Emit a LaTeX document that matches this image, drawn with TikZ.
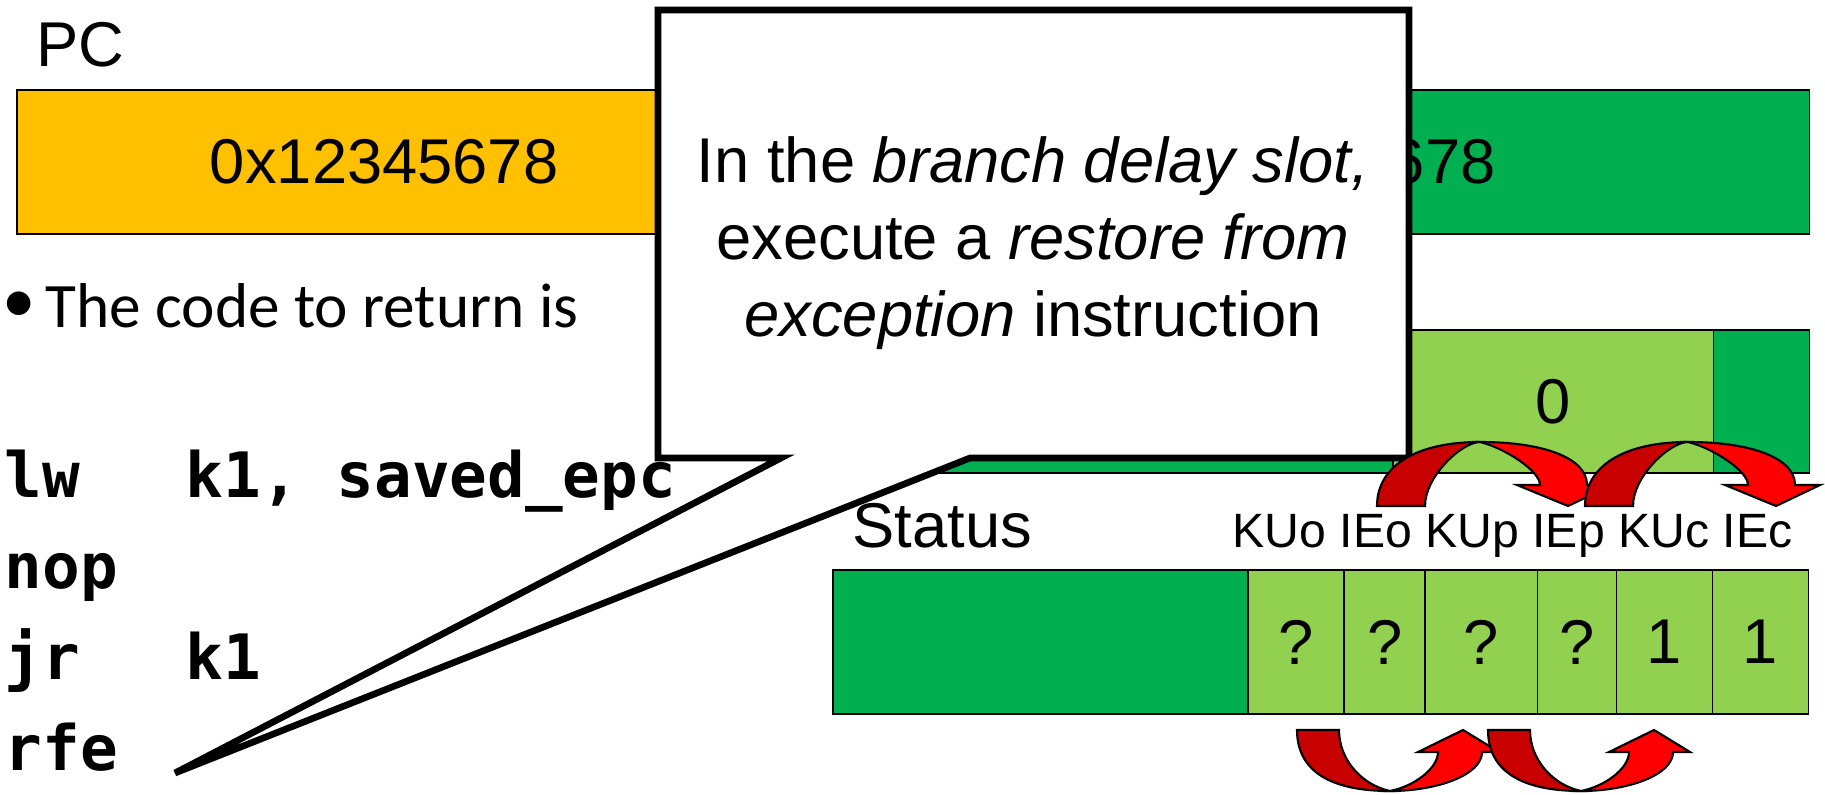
\documentclass[tikz,border=0pt]{standalone}
\usepackage{fontspec}
\setmainfont{Liberation Sans}
\newfontfamily\calibrifont{Carlito}
\newfontfamily\codefont{DejaVu Sans Mono}
\usetikzlibrary{positioning,calc}
\definecolor{pcYellow}{RGB}{255,192,0}
\definecolor{regGreen}{RGB}{0,176,80}
\definecolor{bitGreen}{RGB}{146,208,80}
\definecolor{arrowDark}{RGB}{200,0,0}
\definecolor{arrowLight}{RGB}{255,0,0}
\newcommand{\regfont}{\fontsize{18}{21.9}\selectfont}
\newcommand{\bitfont}{\fontsize{13.7}{16}\selectfont}
\newcommand{\listingfont}{\codefont\bfseries\fontsize{17.8}{21}\selectfont}
\newcommand{\opgap}{\hspace{30.1pt}}
\tikzset{
    regbox/.style={
        draw,
        line width=0.5pt,
        inner sep=0pt,
        outer sep=0pt,
        minimum height=1.44cm,
        font=\regfont
    },
    txt/.style={
        anchor=base west,
        inner sep=0pt
    },
    callout/.style={
        fill=white,
        draw=black,
        line width=1.9pt
    },
    darkarc/.style={fill=arrowDark, draw=black, line width=0.6pt},
    lightarc/.style={fill=arrowLight, draw=black, line width=0.6pt}
}

\begin{document}
\begin{tikzpicture}[x=0.01cm, y=-0.01cm]
    \useasboundingbox (0,0) rectangle (1825,794);

    % registers
    \node[txt, font=\regfont] (pclabel) at (36,67) {PC};
    \node[regbox, anchor=north west, fill=pcYellow, minimum width=7.34cm] (pc) at (17,90) {0x12345678};
    \node[regbox, anchor=north west, fill=regGreen, minimum width=9.76cm] (epc) at (833,90) {0x12345678};

    \node[regbox, anchor=north west, fill=regGreen, minimum width=5.60cm, minimum height=1.43cm] (cause) at (833,330) {};
    \node[regbox, fill=bitGreen, minimum width=3.20cm, minimum height=1.43cm, right=0pt of cause] (excode) {0};
    \node[regbox, fill=regGreen, minimum width=0.96cm, minimum height=1.43cm, right=0pt of excode] (causelow) {};

    \node[txt, font=\regfont] (statuslabel) at (852,547) {Status};
    \node[txt, font=\bitfont] (bitlabels) at (1232,547) {KUo IEo KUp IEp KUc IEc};
    \node[regbox, anchor=north west, fill=regGreen, minimum width=4.15cm] (status) at (833,570) {};
    \node[regbox, fill=bitGreen, minimum width=0.96cm, right=0pt of status] (kuo) {?};
    \node[regbox, fill=bitGreen, minimum width=0.81cm, right=0pt of kuo] (ieo) {?};
    \node[regbox, fill=bitGreen, minimum width=1.12cm, right=0pt of ieo] (kup) {?};
    \node[regbox, fill=bitGreen, minimum width=0.79cm, right=0pt of kup] (iep) {?};
    \node[regbox, fill=bitGreen, minimum width=0.96cm, right=0pt of iep] (kuc) {1};
    \node[regbox, fill=bitGreen, minimum width=0.96cm, right=0pt of kuc] (iec) {1};

    % code
    \node[txt, font=\calibrifont\fontsize{19}{22}\selectfont] (bullet) at (2,322) {•};
    \node[txt, font=\calibrifont\fontsize{18}{21}\selectfont] (intro) at (45,327) {The code to return is};
    \node[txt, font=\listingfont] (lwline) at (4,497) {lw\opgap k1, saved\_epc};
    \node[txt, font=\listingfont] (nopline) at (4,588) {nop};
    \node[txt, font=\listingfont] (jrline) at (4,679) {jr\opgap k1};
    \node[txt, font=\listingfont] (rfeline) at (4,770) {rfe};

    % callout
    \coordinate (tip) at (175,773);
    \filldraw[callout] (658,10) -- (1409,10) -- (1409,458) -- (970,458) -- (tip) -- (781,458) -- (658,458) -- cycle;
    \node[font=\regfont, align=center, inner sep=0pt] (note) at (1033,243)
        {In the \textit{branch delay slot,}\\execute a \textit{restore from}\\\textit{exception} instruction};

    % shifting arrows
    \foreach \dx in {0,208} {
        \begin{scope}[shift={(1377+\dx,506)}]
            \filldraw[darkarc] (0,0) .. controls (0,-40) and (39,-64) .. (103,-64)
                .. controls (85,-64) and (48,-30) .. (48,0) -- cycle;
            \filldraw[lightarc] (103,-64) .. controls (169,-64) and (210,-47) .. (210,-21)
                -- (235,-21) -- (191,0) -- (140,-21) -- (163,-21)
                .. controls (163,-35) and (128,-58) .. (103,-64) -- cycle;
        \end{scope}
    }
    \foreach \dx in {0,191} {
        \begin{scope}[shift={(1297+\dx,730)}]
            \filldraw[darkarc] (0,0) .. controls (0,42) and (35,61) .. (93,61)
                .. controls (65,55) and (42,30) .. (42,0) -- cycle;
            \filldraw[lightarc] (93,61) .. controls (140,61) and (185,45) .. (185,22)
                -- (202,22) -- (166,0) -- (121,22) -- (141,22)
                .. controls (141,38) and (118,56) .. (93,61) -- cycle;
        \end{scope}
    }
\end{tikzpicture}
\end{document}
